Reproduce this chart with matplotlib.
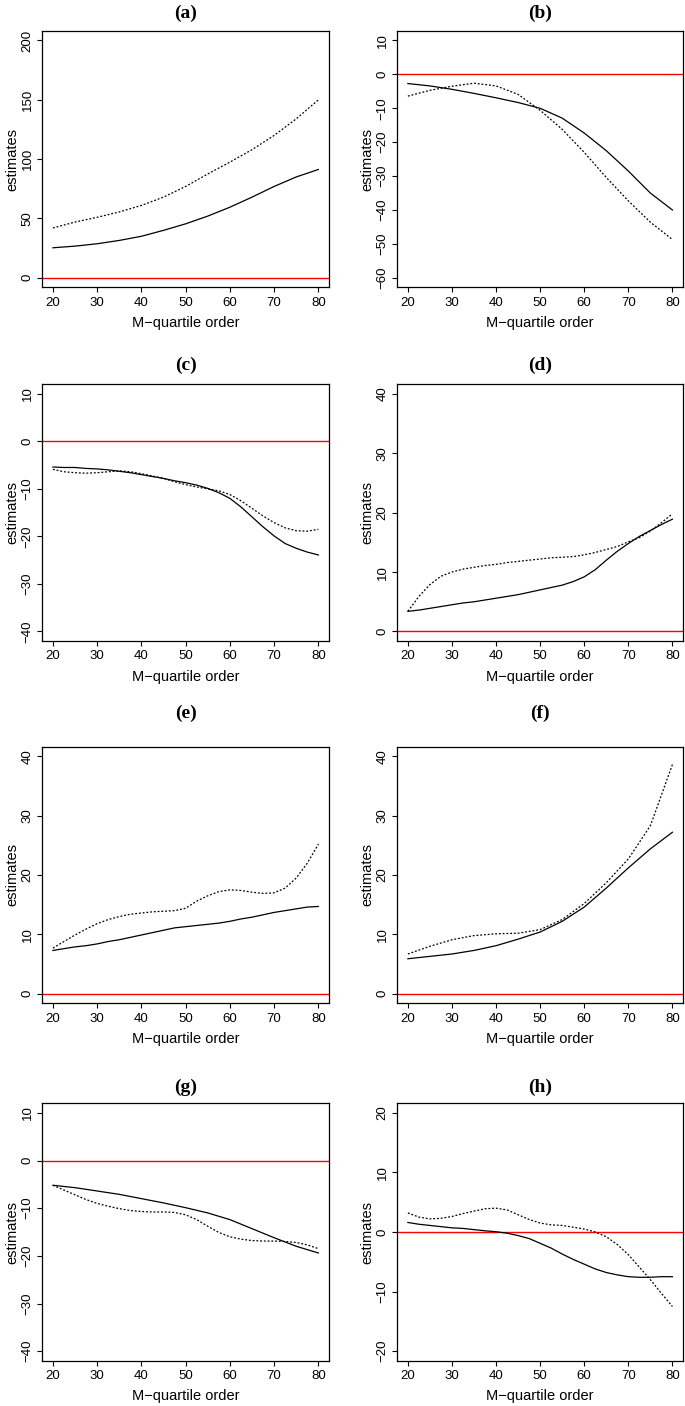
import matplotlib.pyplot as plt

# M-quartile orders (coarse and fine grids)
x5 = [20, 25, 30, 35, 40, 45, 50, 55, 60, 65, 70, 75, 80]
x25 = [20, 22.5, 25, 27.5, 30, 32.5, 35, 37.5, 40, 42.5, 45, 47.5, 50,
       52.5, 55, 57.5, 60, 62.5, 65, 67.5, 70, 72.5, 75, 77.5, 80]

# (a)
a_solid = [25.3, 26.7, 28.7, 31.5, 35.0, 40.0, 45.5, 52.0, 59.5, 68.0, 77.0, 85.0, 91.3]
a_dotted = [42.0, 47.0, 51.0, 55.5, 61.0, 68.0, 77.0, 87.5, 97.5, 108.0, 120.0, 134.0, 150.0]
# (b)
b_solid = [-2.7, -3.4, -4.4, -5.6, -6.9, -8.3, -10.0, -12.9, -17.3, -22.5, -28.5, -35.0, -40.0]
b_dotted = [-6.4, -4.7, -3.5, -2.6, -3.4, -5.9, -10.6, -16.2, -23.0, -30.4, -37.3, -43.6, -48.7]
# (c)
c_solid = [-5.4, -5.5, -5.5, -5.7, -5.8, -6.0, -6.3, -6.6, -7.0, -7.4, -7.8, -8.3, -8.7,
           -9.2, -9.9, -10.8, -12.0, -13.8, -15.9, -18.0, -19.9, -21.5, -22.5, -23.3, -23.9]
c_dotted = [-5.9, -6.4, -6.6, -6.7, -6.6, -6.4, -6.2, -6.4, -6.8, -7.3, -7.8, -8.5, -9.1,
            -9.6, -10.0, -10.4, -11.2, -12.5, -14.1, -15.7, -17.1, -18.2, -18.8, -18.9, -18.5]
# (d)
d_solid = [3.4, 3.6, 3.9, 4.2, 4.5, 4.8, 5.0, 5.3, 5.6, 5.9, 6.2, 6.6, 7.0,
           7.4, 7.8, 8.4, 9.2, 10.4, 12.0, 13.5, 14.8, 16.0, 17.0, 18.0, 18.9]
d_dotted = [3.4, 5.9, 7.9, 9.3, 10.0, 10.5, 10.8, 11.1, 11.3, 11.6, 11.8, 12.0, 12.2,
            12.4, 12.5, 12.6, 12.9, 13.3, 13.8, 14.3, 15.1, 15.8, 16.9, 18.3, 19.8]
# (e)
e_solid = [7.3, 7.6, 7.9, 8.1, 8.4, 8.8, 9.1, 9.5, 9.9, 10.3, 10.7, 11.1, 11.3,
           11.5, 11.7, 11.9, 12.2, 12.6, 12.9, 13.3, 13.7, 14.0, 14.3, 14.6, 14.7]
e_dotted = [7.7, 8.8, 9.9, 10.9, 11.8, 12.5, 13.0, 13.4, 13.6, 13.8, 13.9, 14.0, 14.4,
            15.6, 16.5, 17.2, 17.5, 17.4, 17.1, 16.9, 17.0, 17.8, 19.5, 22.0, 25.2]
# (f)
f_solid = [5.9, 6.3, 6.7, 7.3, 8.1, 9.2, 10.4, 12.2, 14.6, 17.8, 21.2, 24.4, 27.2]
f_dotted = [6.7, 8.0, 9.1, 9.8, 10.1, 10.2, 10.8, 12.5, 15.2, 18.7, 22.7, 28.3, 38.6]
# (g)
g_solid = [-5.2, -5.7, -6.4, -7.1, -8.0, -8.9, -9.9, -11.0, -12.4, -14.3, -16.2, -18.0, -19.4]
g_dotted = [-5.2, -6.2, -7.2, -8.2, -9.0, -9.6, -10.1, -10.5, -10.7, -10.8, -10.8, -10.9, -11.4,
            -12.4, -13.8, -15.1, -16.0, -16.5, -16.8, -16.9, -16.9, -17.0, -17.2, -17.7, -18.5]
# (h)
h_solid = [1.6, 1.3, 1.1, 0.9, 0.7, 0.6, 0.4, 0.2, 0.05, -0.2, -0.6, -1.1, -1.9,
           -2.7, -3.7, -4.6, -5.4, -6.2, -6.8, -7.2, -7.5, -7.6, -7.6, -7.5, -7.5]
h_dotted = [3.2, 2.5, 2.2, 2.3, 2.6, 3.1, 3.5, 3.9, 4.0, 3.7, 2.9, 2.1, 1.5,
            1.2, 1.1, 0.8, 0.5, 0.0, -0.8, -2.1, -3.8, -5.9, -8.0, -10.3, -12.5]

titles = ['(a)', '(b)', '(c)', '(d)', '(e)', '(f)', '(g)', '(h)']
solids = [(x5, a_solid), (x5, b_solid), (x25, c_solid), (x25, d_solid),
          (x25, e_solid), (x5, f_solid), (x5, g_solid), (x25, h_solid)]
dotteds = [(x5, a_dotted), (x5, b_dotted), (x25, c_dotted), (x25, d_dotted),
           (x25, e_dotted), (x5, f_dotted), (x25, g_dotted), (x25, h_dotted)]
ylims = [(0, 200), (-60, 10), (-40, 10), (0, 40), (0, 40), (0, 40), (-40, 10), (-20, 20)]
ysteps = [50, 10, 10, 10, 10, 10, 10, 10]

W, H = 685, 1406
cols = [(42.3, 329.0), (397.3, 683.0)]            # left/right edge in px
rows = [(31.0, 287.3), (384.3, 641.0), (746.7, 1003.3), (1103.3, 1360.7)]
title_y = [13.0, 365.0, 713.0, 1087.0]

plt.rcParams['font.family'] = ['Liberation Sans', 'DejaVu Sans']

fig = plt.figure(figsize=(W / 100, H / 100), dpi=100)

for i in range(8):
    r, c = i // 2, i % 2
    l, rt = cols[c]
    t, b = rows[r]
    ax = fig.add_axes([l / W, 1 - b / H, (rt - l) / W, (b - t) / H])

    lo, hi = ylims[i]
    pad_y = (hi - lo) * 0.04
    ax.set_ylim(lo - pad_y, hi + pad_y)
    ax.set_xlim(20 - 2.4, 80 + 2.4)

    ax.axhline(0, color='red', lw=1.0)
    ax.plot(solids[i][0], solids[i][1], color='black', lw=0.9)
    ax.plot(dotteds[i][0], dotteds[i][1], color='black', lw=0.9, linestyle=(0, (1.5, 1.5)))

    ax.set_xticks(range(20, 81, 10))
    ax.set_yticks(range(lo, hi + 1, ysteps[i]))
    ax.tick_params(direction='out', length=3.8, width=0.8, labelsize=9.5, colors='black')
    ax.tick_params(axis='x', pad=3.0)
    ax.tick_params(axis='y', pad=2.5)
    for lab in ax.get_yticklabels():
        lab.set_rotation(90)
        lab.set_va('center')
    for sp in ax.spines.values():
        sp.set_linewidth(0.9)

    ax.set_xlabel('M\u2212quartile order', fontsize=10.5)
    ax.set_ylabel('estimates', fontsize=10.5)
    ax.xaxis.label.set_va('center')
    ax.yaxis.label.set_va('center')
    ax.xaxis.set_label_coords(0.5, -35.5 / (b - t))
    ax.yaxis.set_label_coords(-30.0 / (rt - l), 0.5)

    fig.text((l + rt) / 2 / W, 1 - title_y[r] / H, titles[i], ha='center', va='center',
             fontsize=14, fontweight='bold', family='Liberation Serif')

fig.savefig('out.png', dpi=100, facecolor='white')
